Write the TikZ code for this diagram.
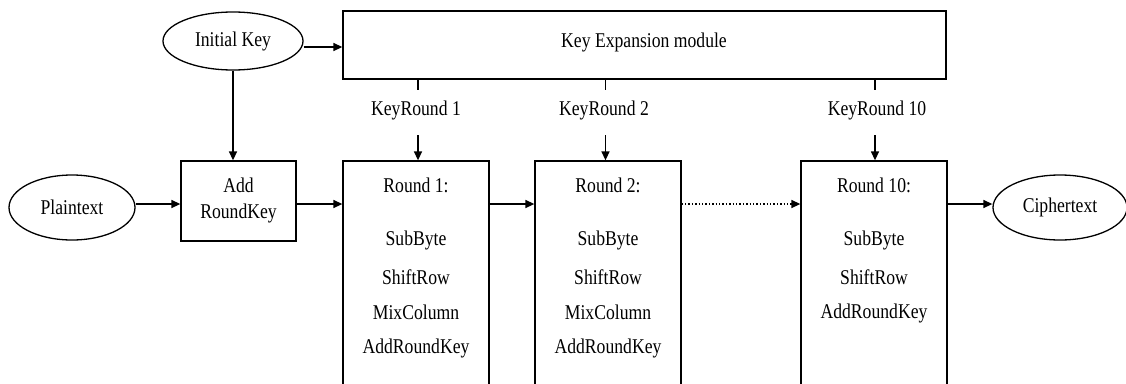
\documentclass[tikz,border=0pt]{standalone}
\usepackage{fontspec}
\setmainfont[FakeStretch=0.84]{Liberation Serif}
\usetikzlibrary{arrows.meta,shapes.geometric}
\begin{document}
\begin{tikzpicture}[x=1pt,y=-1pt,
  every node/.style={font=\fontsize{21}{24}\selectfont, inner sep=0pt},
  blk/.style={draw, line width=1.3pt, rectangle},
  ell/.style={draw, line width=1.3pt, ellipse},
  arr/.style={line width=1.4pt, -{Triangle[length=9pt,width=8pt]}},
  ln/.style={line width=1.4pt}]
\useasboundingbox (0,0) rectangle (1126,383);
\clip (0,0) rectangle (1126,383);
% nodes
\node[ell, minimum width=140pt, minimum height=58pt] (ik) at (233,41) {Initial Key};
\node[blk, minimum width=603pt, minimum height=68pt] (kexp) at (644.5,45) {};
\node (kext) at (644,42) {Key Expansion module};
\node[ell, minimum width=126pt, minimum height=65pt] (pt) at (72,207.5) {Plaintext};
\node[blk, minimum width=115pt, minimum height=80pt] (ark) at (238.5,201) {};
\node (arkA) at (238.5,185) {Add};
\node (arkB) at (238.5,213) {RoundKey};
\node[blk, minimum width=146pt, minimum height=260pt] (r1) at (416,291) {};
\node[blk, minimum width=146pt, minimum height=260pt] (r2) at (608,291) {};
\node[blk, minimum width=146pt, minimum height=260pt] (r10) at (874,291) {};
\node[ell, minimum width=134pt, minimum height=65pt] (ct) at (1060,207.5) {Ciphertext};
% key round labels
\node (kr1) at (416,110) {KeyRound 1};
\node (kr2) at (604,110) {KeyRound 2};
\node (kr10) at (877,110) {KeyRound 10};
% round texts
\node (r1a) at (416,185) {Round 1:};
\node (r1b) at (416,240) {SubByte};
\node (r1c) at (416,277) {ShiftRow};
\node (r1d) at (416,312) {MixColumn};
\node (r1e) at (416,348) {AddRoundKey};
\node (r2a) at (608,185) {Round 2:};
\node (r2b) at (608,240) {SubByte};
\node (r2c) at (608,277) {ShiftRow};
\node (r2d) at (608,312) {MixColumn};
\node (r2e) at (608,348) {AddRoundKey};
\node (r10a) at (874,185) {Round 10:};
\node (r10b) at (874,240) {SubByte};
\node (r10c) at (874,277) {ShiftRow};
\node (r10d) at (874,313) {AddRoundKey};
% connectors
\draw[arr] (ik.east |- 0,47) -- (kexp.west |- 0,47);
\draw[arr] (ik.south) -- (ark.north -| ik.south);
\draw[arr] (pt.east |- 0,204) -- (ark.west |- 0,204);
\draw[arr] (ark.east |- 0,204) -- (r1.west |- 0,204);
\draw[arr] (r1.east |- 0,204) -- (r2.west |- 0,204);
\draw[line width=1.4pt, dotted, -{Triangle[length=9pt,width=8pt]}] (r2.east |- 0,204) -- (r10.west |- 0,204);
\draw[arr] (r10.east |- 0,204) -- (ct.west |- 0,204);
% key taps
\draw[ln] (kexp.south -| 418,0) -- ++(0,10);
\draw[ln] (kexp.south -| 605.5,0) -- ++(0,10);
\draw[ln] (kexp.south -| 875,0) -- ++(0,10);
\draw[arr] (418,135) -- (r1.north -| 418,0);
\draw[arr] (605.5,135) -- (r2.north -| 605.5,0);
\draw[arr] (875,135) -- (r10.north -| 875,0);
\end{tikzpicture}
\end{document}
